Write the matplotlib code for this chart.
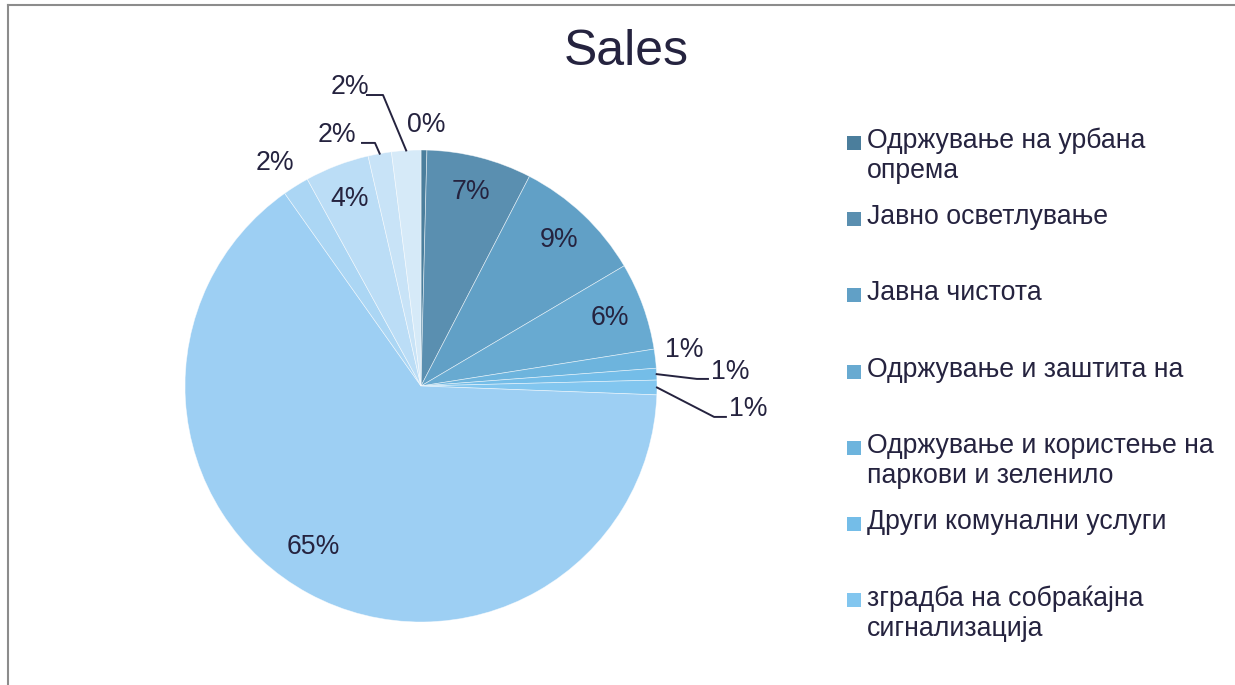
import numpy as np
import matplotlib
matplotlib.use("Agg")
import matplotlib.pyplot as plt
from matplotlib.patches import Rectangle
from matplotlib.lines import Line2D

plt.rcParams['font.family'] = ['Liberation Sans', 'DejaVu Sans']

# ---- data ----
title = "Sales"
values = [0.4, 7.2, 8.9, 6.0, 1.3, 0.8, 1.0, 64.6, 1.8, 4.4, 1.6, 2.0]
legend_labels = [
    "Одржување на урбана\nопрема",
    "Јавно осветлување",
    "Јавна чистота",
    "Одржување и заштита на",
    "Одржување и користење на\nпаркови и зеленило",
    "Други комунални услуги",
    "зградба на собраќајна\nсигнализација",
]
colors = ['#4B7E9C', '#5A8FB0', '#61A0C6', '#68AAD1', '#6DB4DD', '#74BDE8',
          '#82C6EF', '#9DCFF3', '#ABD6F4', '#BBDDF6', '#C8E3F7', '#D6EAF8']

TXT = '#25233F'
FS = 19.2
W, H = 1235, 685
fig = plt.figure(figsize=(W / 100, H / 100), dpi=100)
fig.patch.set_facecolor('white')

# pie axes (center 421,386 px ; radius 236 px)
cx, cy, R = 421, 386, 236
ax = fig.add_axes([(cx - R) / W, (H - cy - R) / H, 2 * R / W, 2 * R / H])

wedges, texts, autotexts = ax.pie(
    values, colors=colors, startangle=90, counterclock=False,
    autopct=lambda p: f"{p:.0f}%", pctdistance=0.85, radius=1,
    wedgeprops=dict(edgecolor=(1, 1, 1, 0.6), linewidth=0.5),
    textprops=dict(fontsize=FS, color=TXT))
ax.set_xlim(-1, 1)
ax.set_ylim(-1, 1)
ax.set_aspect('auto')
ax.axis('off')

# label layout: idx -> (text pos, leader elbow points or None)
label_layout = {
    0: ((0.021, 1.106), None),
    11: ((-0.301, 1.267), [(-0.161, 1.233), (-0.229, 1.233)]),
    10: ((-0.356, 1.064), [(-0.195, 1.03), (-0.25, 1.03)]),
    8: ((-0.619, 0.945), None),
    4: ((1.114, 0.153), None),
    5: ((1.309, 0.059), [(1.169, 0.030), (1.216, 0.030)]),
    6: ((1.386, -0.097), [(1.242, -0.131), (1.292, -0.131)]),
    7: ((-0.458, -0.682), None),
}
for i, (pos, elbow) in label_layout.items():
    autotexts[i].set_position(pos)
    autotexts[i].set_clip_on(False)
    if elbow:
        w = wedges[i]
        mid = np.deg2rad((w.theta1 + w.theta2) / 2)
        pts = [(np.cos(mid), np.sin(mid))] + elbow
        xs, ys = zip(*pts)
        ax.add_line(Line2D(xs, ys, color=TXT, lw=1.4, clip_on=False))

# title
fig.text(626 / W, 1 - 52 / H, title, ha='center', va='center',
         fontsize=36, color=TXT)

# legend (manual, first entries visible)
y0, dy = 143, 76.2
for k, lab in enumerate(legend_labels):
    yc = y0 + k * dy
    fig.patches.append(Rectangle((847 / W, 1 - (yc + 7) / H), 14 / W, 14 / H,
                                 transform=fig.transFigure,
                                 facecolor=colors[k], edgecolor='none'))
    fig.text(867 / W, 1 - (yc - 15) / H, lab, ha='left', va='top',
             fontsize=FS, color=TXT, linespacing=1.2)

# frame lines
fig.add_artist(Line2D([8 / W, 1234 / W], [1 - 5 / H, 1 - 5 / H],
                      transform=fig.transFigure, color='#8c8c8c', lw=1.5))
fig.add_artist(Line2D([8 / W, 8 / W], [1 - 5 / H, 0],
                      transform=fig.transFigure, color='#8c8c8c', lw=1.5))

fig.savefig('out.png', dpi=100)
